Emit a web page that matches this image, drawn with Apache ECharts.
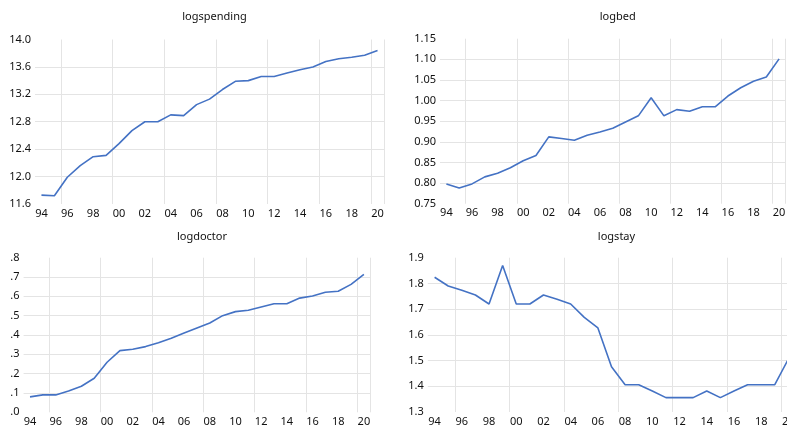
<!DOCTYPE html>
<html>
<head>
<meta charset="utf-8">
<script src="https://cdn.jsdelivr.net/npm/echarts@6/dist/echarts.min.js"></script>
<style>html,body{margin:0;padding:0;background:#fff}#c{width:787px;height:429px}</style>
</head>
<body>
<div id="c"></div>
<script>
const years = ['94','95','96','97','98','99','00','01','02','03','04','05','06','07','08','09','10','11','12','13','14','15','16','17','18','19','20'];
const logspending = [11.73,11.72,11.99,12.16,12.29,12.31,12.48,12.67,12.80,12.80,12.90,12.89,13.05,13.13,13.27,13.39,13.40,13.46,13.46,13.51,13.56,13.60,13.68,13.72,13.74,13.77,13.84];
const logbed = [0.798,0.788,0.798,0.815,0.824,0.837,0.854,0.867,0.912,0.908,0.904,0.916,0.924,0.933,0.948,0.963,1.007,0.963,0.978,0.974,0.985,0.985,1.011,1.031,1.047,1.057,1.101];
const logdoctor = [0.080,0.090,0.090,0.110,0.135,0.176,0.259,0.319,0.326,0.340,0.360,0.383,0.410,0.436,0.462,0.500,0.521,0.528,0.545,0.562,0.562,0.591,0.602,0.621,0.626,0.662,0.714];
const logstay = [1.824,1.790,1.773,1.755,1.720,1.870,1.720,1.720,1.755,1.738,1.720,1.668,1.627,1.476,1.406,1.406,1.382,1.356,1.356,1.356,1.382,1.356,1.382,1.406,1.406,1.406,1.506];
const titles = ['logspending','logbed','logdoctor','logstay'];

const FONT = 'Noto Sans';
const GRID_C = '#e4e4e4';
const LINE_C = '#4472c4';
const TEXT_C = '#111';

const grids = [
  {left: 35, top: 39.5, right: 403, height: 164.5},
  {left: 440, top: 38.7, right: 1.5, height: 165},
  {left: 23.6, top: 257.7, right: 416.7, height: 154.6},
  {left: 427.8, top: 257.7, right: -8.2, height: 154.3}
];
const yCfg = [
  {min: 11.6, max: 14.0, interval: 0.4, fmt: v => v.toFixed(1), n: 7},
  {min: 0.75, max: 1.15, interval: 0.05, fmt: v => v.toFixed(2), n: 9},
  {min: 0, max: 0.8, interval: 0.1, fmt: v => v.toFixed(1).replace(/^0/, ''), n: 9},
  {min: 1.3, max: 1.9, interval: 0.1, fmt: v => v.toFixed(1), n: 7}
];
const datas = [logspending, logbed, logdoctor, logstay];

function splitColors(n) {
  const a = [];
  for (let i = 0; i < n; i++) a.push(i === 0 || i === n - 1 ? 'rgba(0,0,0,0)' : GRID_C);
  return a;
}
const W = 787;
const option = {
  animation: false,
  backgroundColor: '#fff',
  title: titles.map((t, i) => ({
    text: t,
    left: (grids[i].left + (W - grids[i].right)) / 2,
    top: i < 2 ? 6 : 226,
    textAlign: 'center',
    textStyle: {fontFamily: FONT, fontSize: 11, fontWeight: 'normal', color: TEXT_C}
  })),
  grid: grids.map(g => Object.assign({containLabel: false, outerBoundsMode: 'none'}, g)),
  xAxis: grids.map((g, i) => ({
    type: 'category',
    gridIndex: i,
    data: years,
    boundaryGap: true,
    axisLine: {show: false},
    axisTick: {show: false},
    axisLabel: {interval: 1, margin: 4, fontFamily: FONT, fontSize: 11, color: TEXT_C},
    splitLine: {show: true, interval: (idx) => idx > 0 && (idx - 2) % 4 === 0, lineStyle: {color: GRID_C, width: 1}}
  })),
  yAxis: yCfg.map((c, i) => ({
    type: 'value',
    gridIndex: i,
    min: c.min, max: c.max, interval: c.interval,
    axisLine: {show: false},
    axisTick: {show: false},
    axisLabel: {margin: 4, fontFamily: FONT, fontSize: 11, color: TEXT_C, formatter: c.fmt},
    splitLine: {show: true, lineStyle: {color: splitColors(c.n), width: 1}}
  })),
  series: datas.map((d, i) => ({
    type: 'line',
    xAxisIndex: i,
    yAxisIndex: i,
    data: d,
    symbol: 'none',
    lineStyle: {color: LINE_C, width: 1.6},
    itemStyle: {color: LINE_C}
  }))
};

const chart = echarts.init(document.getElementById('c'), null, {renderer: 'canvas'});
chart.setOption(option);
</script>
</body>
</html>
